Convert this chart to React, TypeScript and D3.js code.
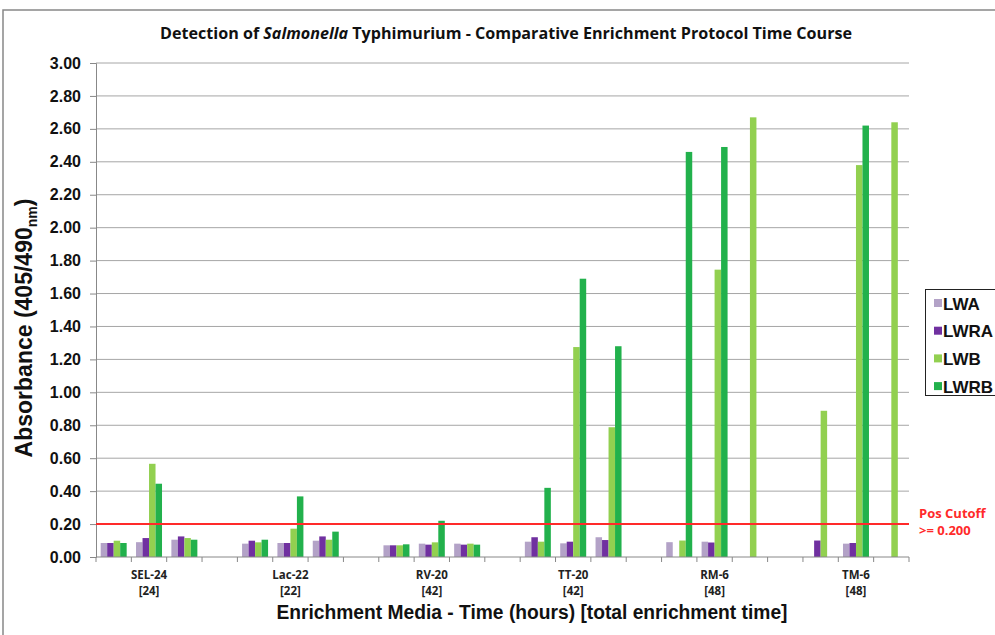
import { useRef, useEffect } from 'react';
import * as d3 from 'd3';

const media = ['SEL-24', 'Lac-22', 'RV-20', 'TT-20', 'RM-6', 'TM-6'];
const totals = ['[24]', '[22]', '[42]', '[42]', '[48]', '[48]'];
const seriesNames = ['LWA', 'LWRA', 'LWB', 'LWRB'];
const seriesColors = ['#b3a2c7', '#7030a0', '#92d050', '#22b14c'];

// 23 slots: 3 sub-runs per medium, one blank slot between media
const slots = d3.range(23);

const lwa = [0.085, 0.09, 0.105, null, 0.081, 0.085, 0.099, null, 0.071, 0.081, 0.081, null, 0.093, 0.083, 0.12, null, 0.09, 0.093, null, null, null, 0.081, null];
const lwra = [0.085, 0.115, 0.125, null, 0.099, 0.085, 0.125, null, 0.071, 0.075, 0.075, null, 0.12, 0.093, 0.103, null, null, 0.088, null, null, 0.1, 0.085, null];
const lwb = [0.099, 0.566, 0.115, null, 0.089, 0.172, 0.105, null, 0.071, 0.089, 0.081, null, 0.093, 1.275, 0.788, null, 0.1, 1.745, 2.67, null, 0.888, 2.38, 2.64];
const lwrb = [0.085, 0.445, 0.105, null, 0.105, 0.368, 0.154, null, 0.077, 0.22, 0.075, null, 0.42, 1.69, 1.28, null, 2.46, 2.49, null, null, null, 2.62, null];

const seriesValues = [lwa, lwra, lwb, lwrb];
const yTicks = d3.range(0, 3.0001, 0.2);
const cutoff = 0.2;

const width = 995;
const height = 635;
const marginLeft = 96;
const marginRight = 86;
const marginTop = 63;
const marginBottom = 78;

export default function App() {
  const gx = useRef<SVGGElement>(null);
  const gy = useRef<SVGGElement>(null);

  const x = d3.scaleBand<number>().domain(slots).range([marginLeft, width - marginRight]).padding(0);
  const xs = d3.scaleBand<string>().domain(seriesNames).range([0, x.bandwidth()]).paddingInner(0).paddingOuter(0.72);
  const y = d3.scaleLinear().domain([0, 3]).range([height - marginBottom, marginTop]);

  useEffect(() => {
    const g = d3.select(gy.current!);
    g.call(d3.axisLeft(y).tickValues(yTicks).tickFormat(d3.format('.2f')).tickSize(6).tickPadding(9));
    g.select('.domain').attr('stroke', '#888');
    g.selectAll('.tick line').attr('stroke', '#888');
    g.selectAll('.tick text')
      .attr('fill', '#111')
      .attr('font-family', 'Liberation Sans, Arial, sans-serif')
      .attr('font-weight', 'bold')
      .attr('font-size', 16);
  }, []);

  useEffect(() => {
    const g = d3.select(gx.current!);
    const edges = slots.map(i => x(i)!).concat([width - marginRight]);
    g.selectAll('line.edge')
      .data(edges)
      .join('line')
      .attr('class', 'edge')
      .attr('x1', d => d)
      .attr('x2', d => d)
      .attr('y1', 0)
      .attr('y2', 5)
      .attr('stroke', '#888');
    g.append('line')
      .attr('x1', marginLeft)
      .attr('x2', width - marginRight)
      .attr('stroke', '#888');
    const lbl = g.selectAll('g.lbl')
      .data(media)
      .join('g')
      .attr('class', 'lbl')
      .attr('transform', (d, i) => `translate(${x(i * 4 + 1)! + x.bandwidth() / 2},0)`);
    lbl.append('text').attr('y', 22).text(d => d);
    lbl.append('text').attr('y', 38).text((d, i) => totals[i]);
    lbl.selectAll('text')
      .attr('text-anchor', 'middle')
      .attr('font-family', 'Open Sans, Liberation Sans, sans-serif')
      .attr('font-weight', 'bold')
      .attr('font-size', 11.5)
      .attr('fill', '#222');
  }, []);

  return (
    <svg width={width} height={height} style={{ position: 'absolute', left: 0, top: 0, background: '#fff' }}
      fontFamily="Liberation Sans, Arial, sans-serif">
      <path d={`M3,${height} V10 H${width}`} fill="none" stroke="#888" strokeWidth={1.5} />
      <text x={506} y={39} textAnchor="middle" fontSize={16} fontWeight="bold" fill="#111"
        fontFamily="Open Sans, Liberation Sans, sans-serif" textLength={692} lengthAdjust="spacingAndGlyphs">
        Detection of <tspan fontStyle="italic">Salmonella</tspan> Typhimurium  - Comparative  Enrichment Protocol Time Course
      </text>
      <g>
        {yTicks.slice(1).map(t => (
          <line key={t} x1={marginLeft} x2={width - marginRight} y1={y(t)} y2={y(t)} stroke="#a6a6a6" />
        ))}
      </g>
      <g ref={gy} transform={`translate(${marginLeft},0)`} />
      <g>
        {seriesNames.map((s, si) => (
          <g key={s} fill={seriesColors[si]}>
            {seriesValues[si].map((v, i) => v == null ? null : (
              <rect key={i} x={x(i)! + xs(s)!} width={xs.bandwidth()} y={y(v)} height={y(0) - y(v)} />
            ))}
          </g>
        ))}
      </g>
      <g ref={gx} transform={`translate(0,${y(0)})`} />
      <line x1={marginLeft} x2={width - marginRight} y1={y(cutoff)} y2={y(cutoff)} stroke="#ff2a2a" strokeWidth={2} />
      <text x={919} fill="#ff2a2a" fontWeight="bold" fontSize={13} fontFamily="Open Sans, Liberation Sans, sans-serif">
        <tspan x={919} y={518}>Pos Cutoff</tspan>
        <tspan x={919} y={535}>&gt;= 0.200</tspan>
      </text>
      <text transform={`translate(32,${328}) rotate(-90)`} textAnchor="middle" fontSize={23} fontWeight="bold" fill="#111">
        Absorbance (405/490<tspan fontSize={14} dy={5}>nm</tspan><tspan dy={-5}>)</tspan>
      </text>
      <text x={532} y={619} textAnchor="middle" fontSize={20} fontWeight="bold" fill="#111" textLength={511} lengthAdjust="spacingAndGlyphs">
        Enrichment Media - Time (hours) [total enrichment time]
      </text>
      <g>
        <rect x={925.5} y={289.5} width={80} height={106} fill="#fff" stroke="#222" />
        {seriesNames.map((s, i) => (
          <g key={s} transform={`translate(934,${303 + i * 27.7})`}>
            <rect x={0} y={-4} width={8} height={8} fill={seriesColors[i]} />
            <text x={9} y={6.5} fontSize={17} fontWeight="bold" fill="#111">{s}</text>
          </g>
        ))}
      </g>
    </svg>
  );
}
